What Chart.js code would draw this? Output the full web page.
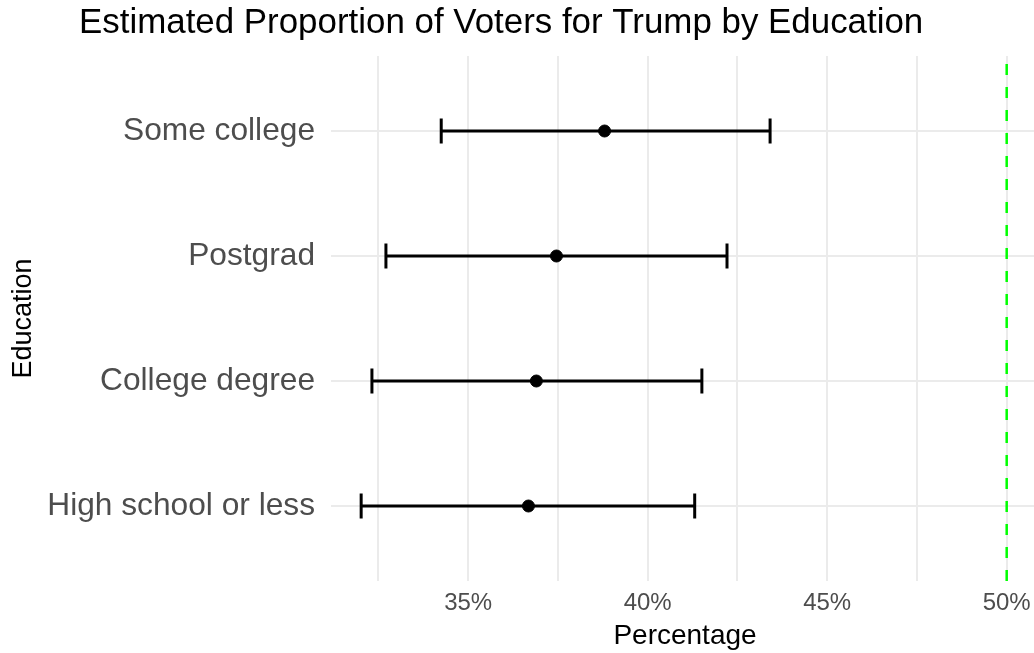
<!DOCTYPE html>
<html>
<head>
<meta charset="utf-8">
<title>Trump by Education</title>
<script src="https://cdn.jsdelivr.net/npm/chart.js@4/dist/chart.umd.min.js"></script>
<style>
  html, body { margin: 0; padding: 0; background: #fff; overflow: hidden; }
  #chart { display: block; }
</style>
</head>
<body>
<canvas id="chart" width="1040" height="653"></canvas>
<script>
// categories bottom -> top
const categories = ["High school or less", "College degree", "Postgrad", "Some college"];
const estimates = [36.68, 36.90, 37.46, 38.80];
const lower = [32.02, 32.32, 32.71, 34.25];
const upper = [41.31, 41.51, 42.21, 43.41];
const refLine = 50;

const xTickValues = [32.5, 35, 37.5, 40, 42.5, 45, 47.5, 50];
const xTickLabels = ["", "35%", "", "40%", "", "45%", "", "50%"];
const yTickValues = [1, 2, 3, 4];

const FONT = '"Liberation Sans", Arial, sans-serif';

const titlePlugin = {
    id: "plotTitle",
    afterDraw(chart) {
        const ctx = chart.ctx;
        ctx.save();
        ctx.fillStyle = "#000";
        ctx.font = "34.9px " + FONT;
        ctx.textBaseline = "alphabetic";
        ctx.textAlign = "left";
        ctx.fillText("Estimated Proportion of Voters for Trump by Education", 79, 33);
        ctx.restore();
    }
};

// one line dataset per error bar, caps drawn as rotated 'line' points
const errorBars = categories.map((c, i) => ({
    type: "line",
    data: [{ x: lower[i], y: i + 1 }, { x: upper[i], y: i + 1 }],
    borderColor: "#000",
    backgroundColor: "#000",
    borderWidth: 3,
    pointStyle: "line",
    pointRotation: 90,
    pointRadius: 12.5,
    pointBorderWidth: 3,
    pointBorderColor: "#000",
    pointHoverRadius: 12.5,
    order: 2
}));

new Chart(document.getElementById("chart"), {
    type: "scatter",
    data: {
        datasets: [
            {
                type: "line",
                data: [{ x: refLine, y: 0.4 }, { x: refLine, y: 4.6 }],
                borderColor: "#00FF00",
                borderWidth: 2.5,
                borderDash: [11, 12],
                pointRadius: 0,
                order: 3
            },
            ...errorBars,
            {
                data: estimates.map((v, i) => ({ x: v, y: i + 1 })),
                backgroundColor: "#000",
                borderColor: "#000",
                pointRadius: 6,
                pointHoverRadius: 6,
                order: 1
            }
        ]
    },
    options: {
        responsive: false,
        devicePixelRatio: 1,
        animation: false,
        events: [],
        layout: { autoPadding: false, padding: { top: 56, left: 0, right: 1, bottom: 0 } },
        plugins: {
            legend: { display: false },
            tooltip: { enabled: false }
        },
        scales: {
            x: {
                type: "linear",
                min: 31.18,
                max: 50.9,
                afterBuildTicks: (scale) => {
                    scale.ticks = xTickValues.map((v) => ({ value: v }));
                },
                afterFit: (scale) => {
                    scale.height = 72;
                    scale.paddingLeft = 0;
                    scale.paddingRight = 0;
                },
                border: { display: false },
                grid: { color: "#EBEBEB", lineWidth: 2, drawTicks: false },
                ticks: {
                    autoSkip: false,
                    maxRotation: 0,
                    padding: 8,
                    color: "#4D4D4D",
                    font: { family: FONT, size: 24 },
                    callback: (v) => xTickLabels[xTickValues.indexOf(v)]
                },
                title: {
                    display: true,
                    text: "Percentage",
                    color: "#000",
                    font: { family: FONT, size: 28 },
                    padding: { top: 0, bottom: 0 }
                }
            },
            y: {
                type: "linear",
                min: 0.4,
                max: 4.6,
                afterBuildTicks: (scale) => {
                    scale.ticks = yTickValues.map((v) => ({ value: v }));
                },
                afterFit: (scale) => {
                    scale.width = 331;
                    scale.paddingTop = 0;
                    scale.paddingBottom = 0;
                },
                border: { display: false },
                grid: { color: "#EBEBEB", lineWidth: 2, drawTicks: false },
                ticks: {
                    autoSkip: false,
                    padding: 16,
                    color: "#4D4D4D",
                    font: { family: FONT, size: 31.7 },
                    callback: (v) => categories[yTickValues.indexOf(v)]
                },
                title: {
                    display: true,
                    text: "Education",
                    color: "#000",
                    font: { family: FONT, size: 27 },
                    padding: { top: 7, bottom: 0 }
                }
            }
        }
    },
    plugins: [titlePlugin]
});
</script>
</body>
</html>
